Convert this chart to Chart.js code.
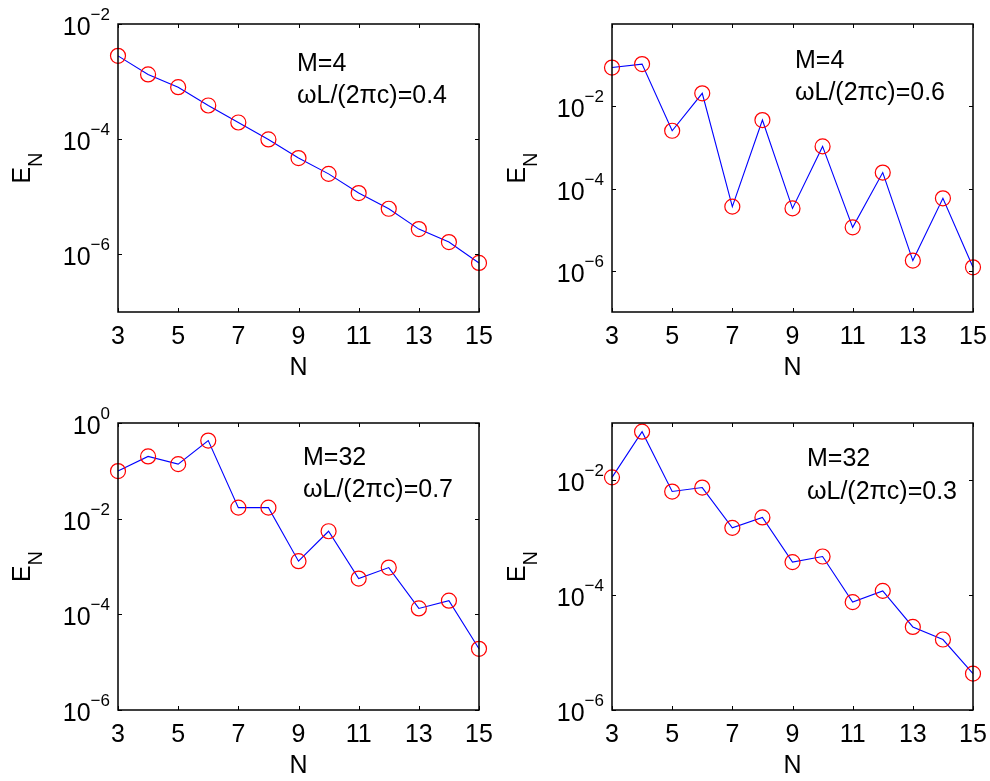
<!DOCTYPE html>
<html>
<head>
<meta charset="utf-8">
<script src="https://cdn.jsdelivr.net/npm/chart.js@4.4.1/dist/chart.umd.min.js"></script>
<style>
  body { margin: 0; background: #fff; }
  .panel { position: absolute; width: 495px; height: 390px; }
</style>
</head>
<body>
<div class="panel" style="left:0;top:0"><canvas id="c1" width="495" height="390"></canvas></div>
<div class="panel" style="left:495px;top:0"><canvas id="c2" width="495" height="390"></canvas></div>
<div class="panel" style="left:0;top:390px"><canvas id="c3" width="495" height="390"></canvas></div>
<div class="panel" style="left:495px;top:390px"><canvas id="c4" width="495" height="390"></canvas></div>
<script>
// N values shared by all four panels
const nValues = [3, 4, 5, 6, 7, 8, 9, 10, 11, 12, 13, 14, 15];
const xTickValues = [3, 5, 7, 9, 11, 13, 15];

// E_N
const errM4w04 = [2.8e-3, 1.33e-3, 8.0e-4, 3.85e-4, 1.95e-4, 9.9e-5, 4.7e-5, 2.5e-5, 1.16e-5, 6.2e-6, 2.75e-6, 1.64e-6, 7.1e-7];
const errM4w06 = [8.75e-2, 1.06e-1, 2.54e-3, 2.07e-2, 3.64e-5, 4.63e-3, 3.3e-5, 1.06e-3, 1.14e-5, 2.45e-4, 1.78e-6, 5.8e-5, 1.22e-6];
const errM32w07 = [9.9e-2, 2.0e-1, 1.38e-1, 4.3e-1, 1.7e-2, 1.7e-2, 1.29e-3, 5.46e-3, 5.6e-4, 9.5e-4, 1.33e-4, 1.93e-4, 1.9e-5];
const errM32w03 = [1.13e-2, 7.05e-2, 6.4e-3, 7.5e-3, 1.49e-3, 2.26e-3, 3.77e-4, 4.72e-4, 7.57e-5, 1.19e-4, 2.8e-5, 1.69e-5, 4.3e-6];

// decade exponents that carry a label
const yTickExps = [-2, -4, -6];
const yTickExpsBottomLeft = [0, -2, -4, -6];

const FONT = '"Liberation Sans", Arial, Helvetica, sans-serif';
const BIG = '25px ' + FONT;
const SMALL = '17px ' + FONT;

const matlabAxes = {
  id: 'matlabAxes',
  afterDraw(chart, args, opts) {
    const { ctx, chartArea: a, scales: { x, y } } = chart;
    ctx.save();
    ctx.fillStyle = '#000';
    ctx.strokeStyle = '#000';

    // box
    ctx.lineWidth = 1.5;
    ctx.strokeRect(a.left, a.top, a.right - a.left, a.bottom - a.top);

    // inward ticks
    ctx.lineWidth = 1;
    ctx.beginPath();
    xTickValues.forEach(v => {
      const px = Math.round(x.getPixelForValue(v)) + 0.5;
      ctx.moveTo(px, a.bottom); ctx.lineTo(px, a.bottom - 4);
      ctx.moveTo(px, a.top); ctx.lineTo(px, a.top + 4);
    });
    opts.yExps.forEach(e => {
      const py = Math.round(y.getPixelForValue(Math.pow(10, e))) + 0.5;
      ctx.moveTo(a.left, py); ctx.lineTo(a.left + 4, py);
      ctx.moveTo(a.right, py); ctx.lineTo(a.right - 4, py);
    });
    ctx.stroke();

    // x tick labels
    ctx.font = BIG;
    ctx.textAlign = 'center';
    ctx.textBaseline = 'alphabetic';
    xTickValues.forEach(v => {
      ctx.fillText(String(v), x.getPixelForValue(v), a.bottom + 32);
    });
    // x title
    ctx.fillText('N', (a.left + a.right) / 2, a.bottom + 63);

    // y tick labels 10^e
    ctx.textAlign = 'left';
    opts.yExps.forEach(e => {
      const py = y.getPixelForValue(Math.pow(10, e));
      const expText = e === 0 ? '0' : '\u2212' + Math.abs(e);
      ctx.font = SMALL;
      const ew = ctx.measureText(expText).width;
      ctx.font = BIG;
      const bw = ctx.measureText('10').width;
      const right = a.left - 8;
      ctx.fillText('10', right - ew - bw, py + 11);
      ctx.font = SMALL;
      ctx.fillText(expText, right - ew, py - 4);
    });

    // y title E_N
    ctx.save();
    ctx.translate(30, (a.top + a.bottom) / 2);
    ctx.rotate(-Math.PI / 2);
    ctx.font = BIG;
    const eW = ctx.measureText('E').width;
    ctx.font = '20px ' + FONT;
    const nW = ctx.measureText('N').width;
    const start = -(eW + nW) / 2;
    ctx.font = BIG;
    ctx.fillText('E', start, 0);
    ctx.font = '20px ' + FONT;
    ctx.fillText('N', start + eW, 12);
    ctx.restore();

    // annotation
    ctx.font = BIG;
    ctx.textAlign = 'left';
    opts.lines.forEach((t, i) => {
      ctx.fillText(t, a.left + opts.textX, a.top + opts.textY[i]);
    });
    ctx.restore();
  }
};

function makePanel(id, values, yMin, yMax, yExps, lines, textX, textY, pad) {
  return new Chart(document.getElementById(id), {
    type: 'line',
    data: {
      datasets: [{
        data: nValues.map((n, i) => ({ x: n, y: values[i] })),
        borderColor: '#0000ff',
        borderWidth: 1.1,
        tension: 0,
        pointRadius: 7.5,
        pointBorderColor: '#ff0000',
        pointBackgroundColor: 'rgba(0,0,0,0)',
        pointBorderWidth: 1.2,
        clip: false
      }]
    },
    options: {
      responsive: false,
      animation: false,
      events: [],
      layout: { padding: pad },
      plugins: {
        legend: { display: false },
        tooltip: { enabled: false },
        matlabAxes: { yExps, lines, textX, textY }
      },
      scales: {
        x: { type: 'linear', min: 3, max: 15, display: false },
        y: { type: 'logarithmic', min: yMin, max: yMax, display: false }
      }
    },
    plugins: [matlabAxes]
  });
}

makePanel('c1', errM4w04, 1e-7, 1e-2, yTickExps,
  ['M=4', '\u03c9L/(2\u03c0c)=0.4'], 179, [47, 79],
  { left: 118, right: 16, top: 24, bottom: 78 });
makePanel('c2', errM4w06, 1e-7, 1e0, yTickExps,
  ['M=4', '\u03c9L/(2\u03c0c)=0.6'], 183, [44, 76],
  { left: 117, right: 17, top: 24, bottom: 78 });
makePanel('c3', errM32w07, 1e-6, 1e0, yTickExpsBottomLeft,
  ['M=32', '\u03c9L/(2\u03c0c)=0.7'], 185, [42, 74],
  { left: 118, right: 16, top: 33, bottom: 70 });
makePanel('c4', errM32w03, 1e-6, 1e-1, yTickExps,
  ['M=32', '\u03c9L/(2\u03c0c)=0.3'], 195, [43, 76],
  { left: 117, right: 17, top: 33, bottom: 70 });
</script>
</body>
</html>
